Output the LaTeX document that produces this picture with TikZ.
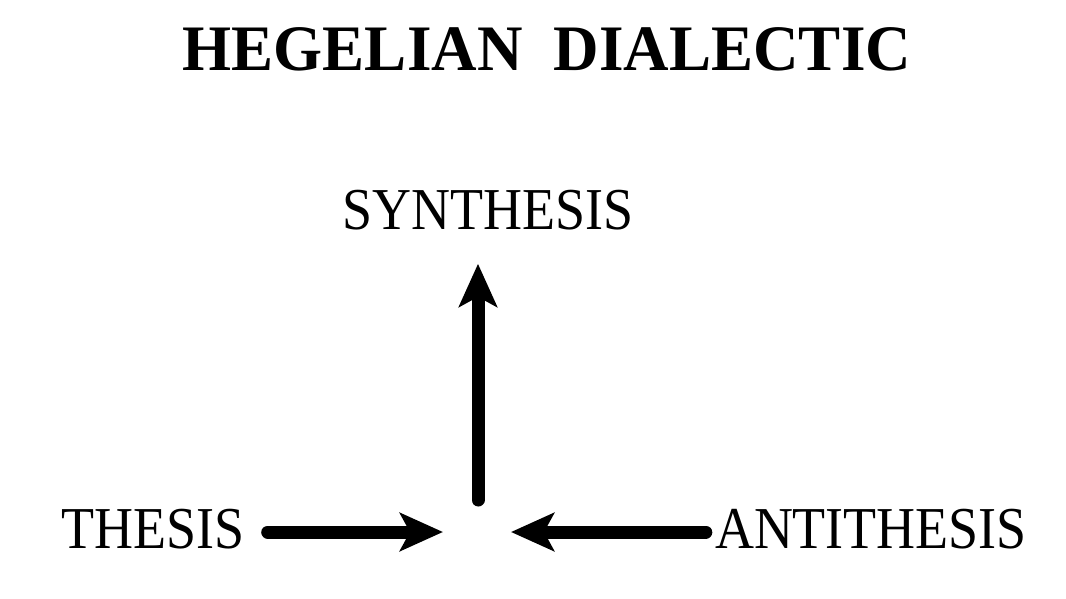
\documentclass[tikz,border=0pt]{standalone}
\usepackage{fontspec}
\setmainfont{Liberation Serif}
\usepackage{tikz}
\usetikzlibrary{positioning}
\usetikzlibrary{arrows.meta}

\begin{document}
\begin{tikzpicture}
           [x=1pt, y=-1pt,
            word/.style = {inner sep=0pt, anchor=base, yscale=1.1, font=\fontsize{54}{60}\selectfont},
            big/.style = {inner sep=0pt, anchor=base, yscale=1.03, font=\fontsize{63}{70}\selectfont\bfseries},
            push/.style = {line width=13pt, line cap=round, -{Stealth[length=43pt, width=38pt, inset=10pt]}}]
            \useasboundingbox (0,0) rectangle (1066,598);
            \node[big] (title) at (547,70) {HEGELIAN~~DIALECTIC};
            \node[word] (synthesis) at (488,229) {SYNTHESIS};
            \node[word] (thesis) at (153,548) {THESIS};
            \node[word] (antithesis) at (871,548) {ANTITHESIS};
            \coordinate (mid) at (478,532);

            \draw[push, shorten <=23pt, shorten >=35pt] (thesis.east |- mid) -- (mid);
            \draw[push, shorten <=9pt, shorten >=33pt] (antithesis.west |- mid) -- (mid);
            \draw[push, shorten <=32pt, shorten >=34pt] (mid) -- (mid |- synthesis.south);
        \end{tikzpicture}
\end{document}
